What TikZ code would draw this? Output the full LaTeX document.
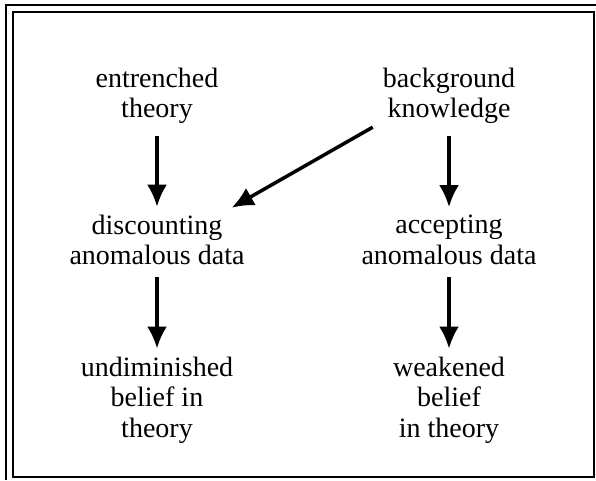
\documentclass[tikz,border=0pt]{standalone}
\usepackage{fontspec}
\setmainfont{Liberation Serif}
\usetikzlibrary{arrows.meta,positioning}

\begin{document}
\begin{tikzpicture}[
    x=1pt,
    y=-1pt,
    node distance=144pt,
    >={Latex[length=22pt,width=20pt]},
    claim/.style={
		align=center,
		inner sep=0pt,
		font=\fontsize{28}{30.5}\selectfont
	},
	link/.style={
		->,
		line width=3.5pt,
		shorten <=12pt,
		shorten >=8pt
	},
	frame/.style={
		line width=2.8pt
	}
  ]

\useasboundingbox (0,0) rectangle (596,480);

% // The frame
\draw [frame] (6,480) -- (6,5) -- (596,5);
\draw [line width=1.8pt] (13,12) rectangle (594,477);

% // Beliefs
\node [claim] (entrenched) at (157,96) {entrenched\\theory};
\node [claim, right of=entrenched, node distance=292pt] (background) {background\\knowledge};
\node [claim, below of=entrenched] (discounting) {discounting\\anomalous data};
\node [claim, below of=background] (accepting) {accepting\\anomalous data};
\node [claim, below of=discounting, yshift=-16pt] (undiminished) {undiminished\\belief in\\theory};
\node [claim, below of=accepting, yshift=-16pt] (weakened) {weakened\\belief\\in theory};

% // Arrows
\draw [link] (entrenched) -- (discounting);
\draw [link] (background) -- (accepting);
\draw [link] (discounting) -- (undiminished);
\draw [link] (accepting) -- (weakened);
\draw [link, shorten <=0pt, shorten >=0pt]
  ([xshift=-10pt, yshift=-3pt]background.south west) -- ([xshift=-13pt, yshift=7pt]discounting.north east);

\end{tikzpicture}
\end{document}
